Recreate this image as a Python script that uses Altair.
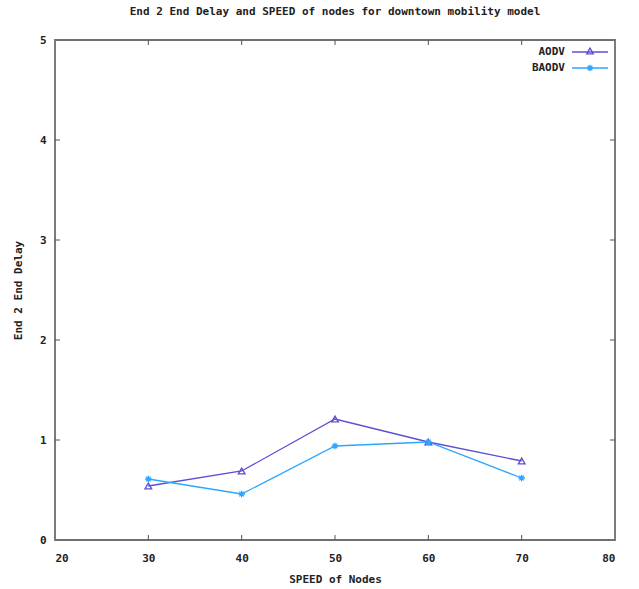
import altair as alt
import pandas as pd

speed = [30, 40, 50, 60, 70]
aodv = [0.54, 0.69, 1.21, 0.98, 0.79]
baodv = [0.61, 0.46, 0.94, 0.98, 0.62]
x_ticks = [20, 30, 40, 50, 60, 70, 80]
y_ticks = [0, 1, 2, 3, 4, 5]

C_A = "#5b4fd0"
C_B = "#2ea6ff"
FONT = "DejaVu Sans Mono"

df = pd.DataFrame({"speed": speed * 2,
                   "delay": aodv + baodv,
                   "series": ["AODV"] * 5 + ["BAODV"] * 5})

W, H = 560, 500
xs = alt.Scale(domain=[20, 80], nice=False)
ys = alt.Scale(domain=[0, 5], nice=False)

xax = alt.Axis(values=x_ticks, title="SPEED of Nodes", grid=False, ticks=False,
               domain=False, labelFont=FONT, labelFontWeight="bold", labelFontSize=11,
               labelColor="#222", titleFont=FONT, titleFontWeight="bold",
               titleFontSize=11, titleColor="#222", labelPadding=12, titlePadding=10,
               format="d")
yax = alt.Axis(values=y_ticks, title="End 2 End Delay", grid=False, ticks=False,
               domain=False, labelFont=FONT, labelFontWeight="bold", labelFontSize=11,
               labelColor="#222", titleFont=FONT, titleFontWeight="bold",
               titleFontSize=11, titleColor="#222", labelPadding=9, titlePadding=16,
               format="d")

base = alt.Chart(df)

lines = base.mark_line(strokeWidth=1.3).encode(
    x=alt.X("speed:Q", scale=xs, axis=xax),
    y=alt.Y("delay:Q", scale=ys, axis=yax),
    color=alt.Color("series:N", scale=alt.Scale(domain=["AODV", "BAODV"], range=[C_A, C_B]), legend=None),
)

tri = base.transform_filter("datum.series == 'AODV'").mark_point(
    shape="triangle-up", filled=False, size=45, strokeWidth=1.3, color=C_A, opacity=1
).encode(x=alt.X("speed:Q", scale=xs), y=alt.Y("delay:Q", scale=ys))

AST = "M-1,0L1,0M0,-1L0,1M-0.7,-0.7L0.7,0.7M-0.7,0.7L0.7,-0.7"
star = base.transform_filter("datum.series == 'BAODV'").mark_point(
    shape=AST, filled=False, size=45, strokeWidth=1.3, color=C_B, opacity=1
).encode(x=alt.X("speed:Q", scale=xs), y=alt.Y("delay:Q", scale=ys))

# frame
frame = alt.Chart(pd.DataFrame({"a": [0]})).mark_rect(
    fill=None, stroke="#707070", strokeWidth=1.8
).encode(x=alt.value(0), x2=alt.value(W), y=alt.value(0), y2=alt.value(H))

# inward ticks
xt = pd.DataFrame({"v": x_ticks[1:-1]})
yt = pd.DataFrame({"v": y_ticks[1:-1]})
xtick_b = alt.Chart(xt).mark_rule(color="#555", strokeWidth=1).encode(
    x=alt.X("v:Q", scale=xs), y=alt.value(H), y2=alt.value(H - 5))
xtick_t = alt.Chart(xt).mark_rule(color="#555", strokeWidth=1).encode(
    x=alt.X("v:Q", scale=xs), y=alt.value(0), y2=alt.value(5))
ytick_l = alt.Chart(yt).mark_rule(color="#555", strokeWidth=1).encode(
    y=alt.Y("v:Q", scale=ys), x=alt.value(0), x2=alt.value(5))
ytick_r = alt.Chart(yt).mark_rule(color="#555", strokeWidth=1).encode(
    y=alt.Y("v:Q", scale=ys), x=alt.value(W), x2=alt.value(W - 5))

# legend
lt_a = alt.Chart(pd.DataFrame({"name": ["AODV"]})).mark_text(
    align="right", baseline="middle", font=FONT, fontWeight="bold", fontSize=11, color="#222"
).encode(text="name:N", x=alt.value(510), y=alt.value(12))
lt_b = alt.Chart(pd.DataFrame({"name": ["BAODV"]})).mark_text(
    align="right", baseline="middle", font=FONT, fontWeight="bold", fontSize=11, color="#222"
).encode(text="name:N", x=alt.value(510), y=alt.value(28))
ll_a = alt.Chart(pd.DataFrame({"name": ["AODV"]})).mark_rule(color=C_A, strokeWidth=1.3).encode(
    x=alt.value(517), x2=alt.value(553), y=alt.value(12))
ll_b = alt.Chart(pd.DataFrame({"name": ["BAODV"]})).mark_rule(color=C_B, strokeWidth=1.3).encode(
    x=alt.value(517), x2=alt.value(553), y=alt.value(28))
lm_a = alt.Chart(pd.DataFrame({"name": ["AODV"]})).mark_point(
    shape="triangle-up", filled=False, size=45, strokeWidth=1.3, color=C_A, opacity=1
).encode(x=alt.value(535), y=alt.value(11))
lm_b = alt.Chart(pd.DataFrame({"name": ["BAODV"]})).mark_point(
    shape=AST, filled=False, size=45, strokeWidth=1.3, color=C_B, opacity=1
).encode(x=alt.value(535), y=alt.value(28))

chart = alt.layer(
    frame, xtick_b, xtick_t, ytick_l, ytick_r, lines, tri, star,
    lt_a, lt_b, ll_a, ll_b, lm_a, lm_b
).properties(
    width=W, height=H,
    title=alt.Title("End 2 End Delay and SPEED of nodes for downtown mobility model",
                    font=FONT, fontWeight="bold", fontSize=11, color="#222", offset=17),
    autosize=alt.AutoSizeParams(type="none"),
    padding={"left": 55, "top": 40, "right": 24, "bottom": 49},
).configure_view(stroke=None).configure(background="white")

chart.save("out.html", embed_options={"renderer": "svg", "actions": False})
